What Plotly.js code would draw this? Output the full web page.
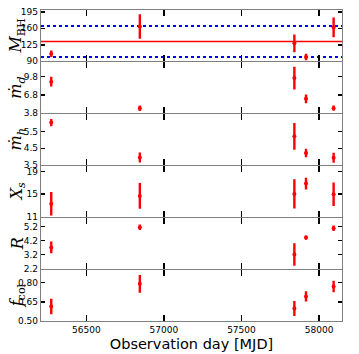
<!DOCTYPE html>
<html>
<head>
<meta charset="utf-8">
<script src="https://cdn.plot.ly/plotly-3.0.1.min.js"></script>
<style>
  html, body { margin: 0; padding: 0; background: #fff; }
  #chart { width: 359px; height: 354px; }
</style>
</head>
<body>
<div id="chart"></div>
<script>
// observation epochs (MJD)
var obsDays = [56274, 56845, 57841, 57916, 58094];

// fitted parameters and their errors
var mBH = [106, 164, 128, 99, 162];
var mBHErr = [7, 26, 19, 7, 21];
var mDotD = [8.95, 4.6, 9.54, 6.13, 4.6];
var mDotDErr = [0.8, 0.45, 1.86, 0.72, 0.43];
var mDotH = [6.05, 3.95, 5.22, 4.22, 3.93];
var mDotHErr = [0.22, 0.3, 0.8, 0.26, 0.3];
var xs = [13.3, 14.7, 15.05, 16.9, 15.0];
var xsErr = [2.1, 2.3, 2.6, 1.05, 2.1];
var rr = [3.7, 5.14, 3.2, 4.4, 5.07];
var rrErr = [0.42, 0.2, 0.8, 0.15, 0.2];
var fcol = [0.613, 0.79, 0.598, 0.692, 0.77];
var fcolErr = [0.06, 0.07, 0.058, 0.04, 0.045];

// mean mass and its band
var mBHMean = 132;
var mBHLow = 99;
var mBHHigh = 165;

var xRange = [56208, 58148];

var panels = [
  {title: '<i>M</i><sub>BH</sub>', y: mBH, err: mBHErr, range: [90, 199], ticks: [90, 125, 160, 195], fmt: ''},
  {title: '<i>ṁ</i><sub><i>d</i></sub>', y: mDotD, err: mDotDErr, range: [3.8, 12.1], ticks: [3.8, 6.8, 9.8], fmt: '.1f'},
  {title: '<i>ṁ</i><sub><i>h</i></sub>', y: mDotH, err: mDotHErr, range: [3.5, 6.55], ticks: [3.5, 4.5, 5.5], fmt: '.1f'},
  {title: '<i>X</i><sub><i>s</i></sub>', y: xs, err: xsErr, range: [11, 20], ticks: [11, 15, 19], fmt: ''},
  {title: '<i>R</i>', y: rr, err: rrErr, range: [2.2, 5.8], ticks: [2.2, 3.2, 4.2, 5.2], fmt: '.1f'},
  {title: '<i>f</i><sub>col</sub>', y: fcol, err: fcolErr, range: [0.5, 0.9], ticks: [0.5, 0.65, 0.8], fmt: '.2f'}
];

var data = [];
var plotH = 354 - 10 - 33;
var lw = 1.2;
var gap = lw / plotH;  // so the spines of neighbouring panels fall on one line

var layout = {
  width: 359,
  height: 354,
  margin: {l: 41, r: 17, t: 10, b: 33},
  paper_bgcolor: '#ffffff',
  plot_bgcolor: '#ffffff',
  showlegend: false,
  font: {family: 'DejaVu Sans', size: 9, color: '#000'},
  annotations: []
};

var N = panels.length;
for (var k = 0; k < N; k++) {
  var sfx = k === 0 ? '' : String(k + 1);
  var p = panels[k];
  var lo = (N - 1 - k) / N, hi = (N - k) / N;
  if (k < N - 1) lo += gap / 2;
  if (k > 0) hi -= gap / 2;

  layout['xaxis' + sfx] = {
    domain: [0, 1],
    anchor: 'y' + sfx,
    range: xRange,
    matches: k === 0 ? undefined : 'x',
    tickvals: [56500, 57000, 57500, 58000],
    tickformat: 'd',
    showticklabels: k === N - 1,
    ticks: 'inside',
    ticklen: 6,
    tickwidth: 1.6,
    tickcolor: '#000',
    showline: true,
    linecolor: '#808080',
    linewidth: lw,
    mirror: 'ticks',
    showgrid: false,
    zeroline: false,
    tickfont: {family: 'DejaVu Sans', size: 9, color: '#000'}
  };
  if (k === N - 1) {
    layout['xaxis' + sfx].title = {text: 'Observation day [MJD]', font: {family: 'DejaVu Sans', size: 14.5, color: '#000'}, standoff: 4};
  }

  layout['yaxis' + sfx] = {
    domain: [lo, hi],
    anchor: 'x' + sfx,
    range: p.range,
    tickvals: p.ticks,
    tickformat: p.fmt,
    ticks: 'inside',
    ticklen: 4,
    tickwidth: 1.5,
    tickcolor: '#000',
    showline: true,
    linecolor: '#808080',
    linewidth: lw,
    mirror: 'ticks',
    showgrid: false,
    zeroline: false,
    tickfont: {family: 'DejaVu Sans', size: 9, color: '#000'}
  };

  layout.annotations.push({
    text: p.title,
    xref: 'paper', yref: 'paper',
    x: -0.08, y: (lo + hi) / 2,
    xanchor: 'center', yanchor: 'middle',
    textangle: -90,
    showarrow: false,
    font: {family: 'DejaVu Serif', size: 16, color: '#000'}
  });

  if (k === 0) {
    data.push({x: xRange, y: [mBHMean, mBHMean], xaxis: 'x', yaxis: 'y', mode: 'lines',
      line: {color: '#ff0000', width: 1.5}, hoverinfo: 'skip'});
    data.push({x: xRange, y: [mBHLow, mBHLow], xaxis: 'x', yaxis: 'y', mode: 'lines',
      line: {color: '#0000ff', width: 2, dash: 'dot'}, hoverinfo: 'skip'});
    data.push({x: xRange, y: [mBHHigh, mBHHigh], xaxis: 'x', yaxis: 'y', mode: 'lines',
      line: {color: '#0000ff', width: 2, dash: 'dot'}, hoverinfo: 'skip'});
  }

  data.push({
    x: obsDays,
    y: p.y,
    xaxis: 'x' + sfx,
    yaxis: 'y' + sfx,
    mode: 'markers',
    type: 'scatter',
    marker: {color: '#ff0000', size: 4},
    error_y: {type: 'data', array: p.err, visible: true, color: '#ff0000', thickness: 2.4, width: 0}
  });
}

Plotly.newPlot('chart', data, layout, {staticPlot: true});
</script>
</body>
</html>
